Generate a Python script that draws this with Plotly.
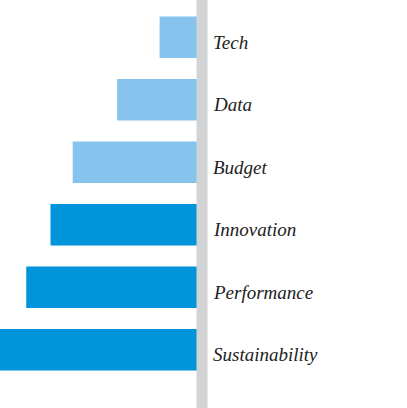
import plotly.graph_objects as go

categories = ["Tech", "Data", "Budget", "Innovation", "Performance", "Sustainability"]
values = [21, 42, 64, 75, 87, 100]
colors = ["#86C4EE", "#86C4EE", "#86C4EE", "#0095DA", "#0095DA", "#0095DA"]

fig = go.Figure()
fig.add_trace(go.Bar(
    y=categories, x=values, orientation="h",
    marker=dict(color=colors, line=dict(width=0)),
    width=0.667, hoverinfo="skip",
))

for c in categories:
    fig.add_annotation(
        x=1, xref="paper", y=c, yref="y", text=c, showarrow=False,
        xanchor="left", yanchor="middle", xshift=9, yshift=-5,
        font=dict(family="Liberation Serif, DejaVu Serif, serif", size=19, color="#222222", style="italic"),
    )

fig.add_shape(type="rect", xref="paper", yref="paper",
              x0=1.0, x1=1.0, y0=-0.2, y1=1.2,
              line=dict(color="#D2D3D5", width=11), layer="above")

fig.update_layout(
    width=407, height=408,
    margin=dict(l=0, r=204.5, t=6, b=27),
    paper_bgcolor="white", plot_bgcolor="white",
    showlegend=False,
    xaxis=dict(range=[100, 0], visible=False, fixedrange=True),
    yaxis=dict(categoryorder="array", categoryarray=categories, autorange="reversed",
               visible=False, fixedrange=True),
)

fig.write_html("out.html", config={"displayModeBar": False},
               post_script="document.body.style.margin='0';")
